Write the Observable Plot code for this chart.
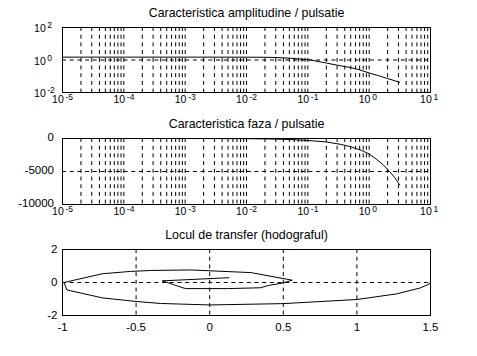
<!DOCTYPE html>
<html><head><meta charset="utf-8">
<script src="https://cdn.jsdelivr.net/npm/d3@7"></script>
<script src="https://cdn.jsdelivr.net/npm/@observablehq/plot@0.6"></script>
<style>
body{margin:0;background:#fff;}
#c{position:relative;width:477px;height:356px;background:#fff;overflow:hidden;}
#c svg{position:absolute;left:0;}
</style></head><body><div id="c"></div>
<script>
// ---- data ----
const ampTitle = "Caracteristica amplitudine / pulsatie";
const phaseTitle = "Caracteristica faza / pulsatie";
const nyqTitle = "Locul de transfer (hodograful)";

const ampFreq = [1e-5, 1e-4, 1e-3, 1e-2, 0.02, 0.03, 0.05, 0.08, 0.11, 0.2, 0.3, 0.5, 0.65, 1.05, 1.4, 2, 3.13];
const ampValue = [1.5, 1.5, 1.5, 1.49, 1.47, 1.43, 1.3, 1.12, 1.0, 0.65, 0.48, 0.34, 0.27, 0.15, 0.11, 0.072, 0.043];

const phaseFreq = [1e-5, 1e-3, 0.01, 0.025, 0.05, 0.1, 0.2, 0.35, 0.5, 0.75, 1, 1.3, 1.7, 2.15, 2.6, 3.13];
const phaseValue = [0, -3, -25, -75, -150, -300, -520, -900, -1250, -1800, -2350, -3100, -4000, -5000, -5900, -7000];

const nyqRe = [1.5, 1.49, 1.43, 1.27, 1.0, 0.5, 0.0, -0.335, -0.5, -0.73, -0.97, -0.99, -0.73, -0.54, -0.40, -0.13, 0.28, 0.56, 0.50, 0.40, 0.345, 0.12, -0.165, -0.323, -0.107, 0.13];
const nyqIm = [0.02, -0.1, -0.33, -0.69, -1.03, -1.28, -1.36, -1.27, -1.15, -0.93, -0.45, 0.0, 0.53, 0.67, 0.73, 0.76, 0.6, 0.14, -0.02, -0.18, -0.32, -0.37, -0.37, 0.1, 0.19, 0.29];

const logXTicks = [1e-5, 1e-4, 1e-3, 1e-2, 1e-1, 1, 10];
const logXExp = ["-5", "-4", "-3", "-2", "-1", "0", "1"];
const ampYTicks = [1e-2, 1, 1e2];
const ampYExp = ["-2", "0", "2"];
const phaseYTicks = [0, -5000, -10000];
const phaseYLabels = ["0", "-5000", "-10000"];
const nyqXTicks = [-1, -0.5, 0, 0.5, 1, 1.5];
const nyqXLabels = ["-1", "-0.5", "0", "0.5", "1", "1.5"];
const nyqYTicks = [-2, 0, 2];
const nyqYLabels = ["-2", "0", "2"];

// ---- helpers ----
const FONT = "'Liberation Sans', Arial, Helvetica, sans-serif";
const NARROW = "'Liberation Sans Narrow', 'Liberation Sans', Arial, sans-serif";
const DASH = "4,3.7";
const logGrid = [];
for (let d = -5; d <= 0; d++) for (let k = 1; k <= 9; k++) { if (!(d === -5 && k === 1)) logGrid.push(k * Math.pow(10, d)); }

const ampData = ampFreq.map((w, i) => ({w, a: ampValue[i]}));
const phaseData = phaseFreq.map((w, i) => ({w, p: phaseValue[i]}));
const nyqData = nyqRe.map((re, i) => ({re, im: nyqIm[i]}));

const base = {width: 477, marginLeft: 62, marginRight: 47,
  style: {fontFamily: FONT, background: "white", color: "black"}};

function logXLabels() {
  return [
    Plot.text(logXTicks, {x: d => d, text: () => "10", frameAnchor: "bottom", dy: 10.5, dx: 1.3, lineAnchor: "bottom", textAnchor: "end", fontSize: 10.5, fontFamily: NARROW, fill: "black"}),
    Plot.text(logXTicks, {x: d => d, text: (d, i) => logXExp[i], frameAnchor: "bottom", dy: 7, dx: 3, lineAnchor: "bottom", textAnchor: "start", fontSize: 8.5, fontFamily: NARROW, fill: "black"})
  ];
}

const c = document.getElementById("c");

// ---- plot 1: amplitude ----
const p1 = Plot.plot({...base, height: 112, marginTop: 27, marginBottom: 20,
  x: {type: "log", domain: [1e-5, 10], axis: null},
  y: {type: "log", domain: [1e-2, 1e2], axis: null},
  marks: [
    Plot.ruleX(logGrid, {stroke: "black", strokeDasharray: DASH}),
    Plot.ruleY(ampYTicks.filter(d => d > 1e-2 && d < 1e2), {stroke: "black", strokeDasharray: DASH}),
    Plot.line(ampData, {x: "w", y: "a", stroke: "black", strokeWidth: 1}),
    Plot.frame({stroke: "black"}),
    Plot.text([ampTitle], {frameAnchor: "top", dy: -10.5, lineAnchor: "bottom", fontSize: 12.4, fill: "black"}),
    ...logXLabels(),
    Plot.text(ampYTicks, {y: d => d, text: () => "10", frameAnchor: "left", dx: -16.7, dy: 4.5, lineAnchor: "bottom", textAnchor: "end", fontSize: 10.5, fontFamily: NARROW, fill: "black"}),
    Plot.text(ampYTicks, {y: d => d, text: (d, i) => ampYExp[i], frameAnchor: "left", dx: -15.3, dy: 0.5, lineAnchor: "bottom", textAnchor: "start", fontSize: 8.5, fontFamily: NARROW, fill: "black"})
  ]
});
p1.style.top = "0px";
c.appendChild(p1);

// ---- plot 2: phase ----
const p2 = Plot.plot({...base, height: 113, marginTop: 27, marginBottom: 20,
  x: {type: "log", domain: [1e-5, 10], axis: null},
  y: {domain: [-10000, 0], axis: null},
  marks: [
    Plot.ruleX(logGrid, {stroke: "black", strokeDasharray: DASH}),
    Plot.ruleY(phaseYTicks.filter(d => d > -10000 && d < 0), {stroke: "black", strokeDasharray: DASH}),
    Plot.line(phaseData, {x: "w", y: "p", stroke: "black", strokeWidth: 1}),
    Plot.frame({stroke: "black"}),
    Plot.text([phaseTitle], {frameAnchor: "top", dy: -11, lineAnchor: "bottom", fontSize: 12.4, fill: "black"}),
    ...logXLabels(),
    Plot.text(phaseYTicks, {y: d => d, text: (d, i) => phaseYLabels[i], frameAnchor: "left", dx: -8.5, dy: -1, lineAnchor: "middle", textAnchor: "end", fontSize: 11.5, fill: "black"})
  ]
});
p2.style.top = "111px";
c.appendChild(p2);

// ---- plot 3: Nyquist ----
const p3 = Plot.plot({...base, height: 132, marginTop: 25, marginBottom: 41,
  x: {domain: [-1, 1.5], axis: null},
  y: {domain: [-2, 2], axis: null},
  marks: [
    Plot.ruleX(nyqXTicks.filter(d => d > -1 && d < 1.5), {stroke: "black", strokeDasharray: DASH}),
    Plot.ruleY(nyqYTicks.filter(d => d > -2 && d < 2), {stroke: "black", strokeDasharray: DASH}),
    Plot.line(nyqData, {x: "re", y: "im", stroke: "black", strokeWidth: 1}),
    Plot.frame({stroke: "black"}),
    Plot.text([nyqTitle], {frameAnchor: "top", dy: -10.7, lineAnchor: "bottom", fontSize: 12.4, fill: "black"}),
    Plot.text(nyqXTicks, {x: d => d, text: (d, i) => nyqXLabels[i], frameAnchor: "bottom", dy: 15.3, lineAnchor: "bottom", fontSize: 11.5, fill: "black"}),
    Plot.text(nyqYTicks, {y: d => d, text: (d, i) => nyqYLabels[i], frameAnchor: "left", dx: -5, lineAnchor: "middle", textAnchor: "end", fontSize: 11.5, fill: "black"})
  ]
});
p3.style.top = "224px";
c.appendChild(p3);
</script></body></html>
